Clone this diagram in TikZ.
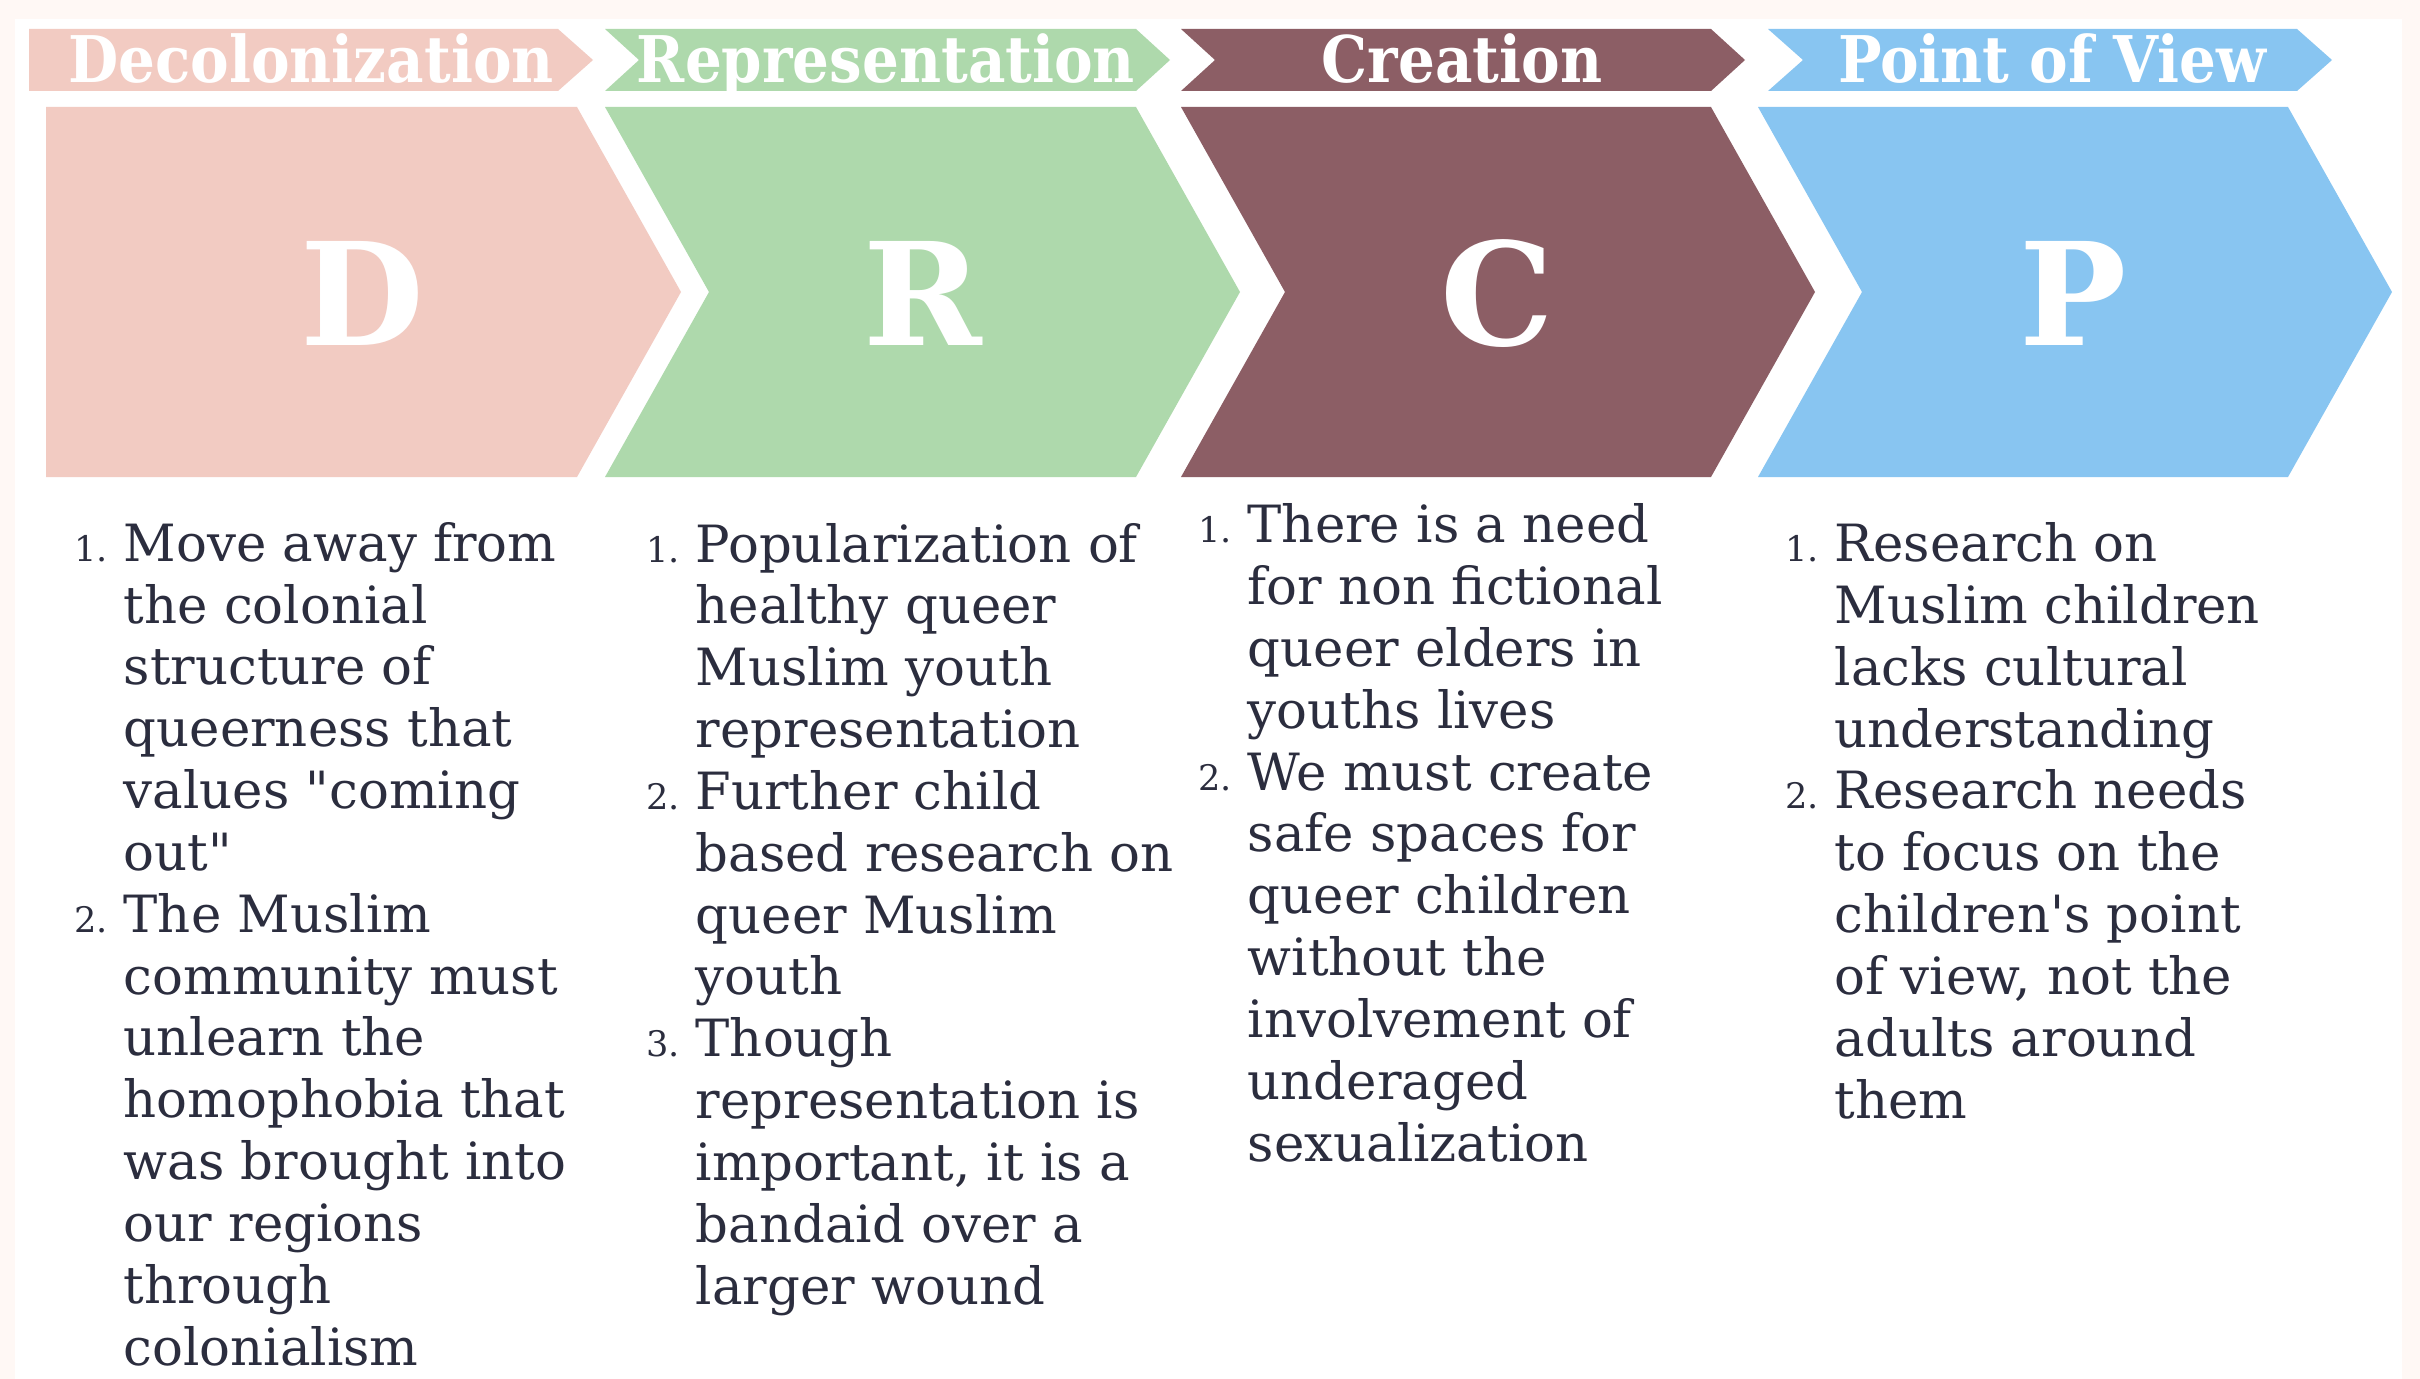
\documentclass[tikz,border=0pt]{standalone}
\usepackage{fontspec}
\setmainfont{DejaVu Serif}
\newfontfamily\headfont{DejaVu Serif}[FakeStretch=0.9]
\usepackage{xcolor}
\usepackage{tikz}
\usetikzlibrary{positioning}

\definecolor{cream}{HTML}{FFF8F5}
\definecolor{decpink}{HTML}{F2CBC2}
\definecolor{repgreen}{HTML}{AED9AC}
\definecolor{cremaroon}{HTML}{8C5E65}
\definecolor{povblue}{HTML}{88C5F1}
\definecolor{ink}{HTML}{2B2D3E}

% list number, hung to the left of the text
\newcommand{\itm}[1]{\llap{\fontsize{10}{10}\selectfont #1\hspace{4.5pt}}}

\begin{document}
\begin{tikzpicture}[x=0.01cm, y=-0.01cm,
            every node/.style={inner sep=0pt},
            head/.style={font=\headfont\fontsize{18.3}{18.3}\selectfont\bfseries, text=white, anchor=base},
            letter/.style={font=\fontsize{40.6}{40.6}\selectfont\bfseries, text=white, anchor=base},
            item/.style={font=\fontsize{14.6}{17.58}\selectfont, text=ink, align=left, anchor=base west}]
            \useasboundingbox (0,0) rectangle (2420,1379);
            \fill[cream] (0,0) rectangle (2420,1379);
            \fill[white] (15,19) rectangle (2402,1379);

            % Kopfleiste
            \fill[decpink] (29,29) -- (558,29) -- (593,60) -- (558,91) -- (29,91) -- cycle;
            \fill[repgreen] (605,29) -- (1136,29) -- (1170,60) -- (1136,91) -- (605,91) -- (639,60) -- cycle;
            \fill[cremaroon] (1181,29) -- (1711,29) -- (1745,60) -- (1711,91) -- (1181,91) -- (1215,60) -- cycle;
            \fill[povblue] (1768,29) -- (2297,29) -- (2332,60) -- (2297,91) -- (1768,91) -- (1803,60) -- cycle;

            \node[head] (hdec) at (311,83) {Decolonization};
            \node[head] (hrep) at (886,83) {Representation};
            \node[head] (hcre) at (1462,83) {Creation};
            \node[head] (hpov) at (2052,83) {Point of View};

            % grosse Pfeile
            \fill[decpink] (46,107) -- (577,107) -- (681,292) -- (577,477) -- (46,477) -- cycle;
            \fill[repgreen] (605,107) -- (1136,107) -- (1240,292) -- (1136,477) -- (605,477) -- (709,292) -- cycle;
            \fill[cremaroon] (1181,107) -- (1711,107) -- (1815,292) -- (1711,477) -- (1181,477) -- (1285,292) -- cycle;
            \fill[povblue] (1758,107) -- (2288,107) -- (2392,292) -- (2288,477) -- (1758,477) -- (1862,292) -- cycle;

            \node[letter] (ltrD) at (362,346) {D};
            \node[letter] (ltrR) at (923,346) {R};
            \node[letter] (ltrC) at (1497,346) {C};
            \node[letter] (ltrP) at (2073,346) {P};

            % Decolonization (anchored on the last line)
            \node[item] (txtD) at (123,1365) {
                \itm{1.}Move away from\\
                the colonial\\
                structure of\\
                queerness that\\
                values \textquotedbl coming\\
                out\textquotedbl\\
                \itm{2.}The Muslim\\
                community must\\
                unlearn the\\
                homophobia that\\
                was brought into\\
                our regions\\
                through\\
                colonialism
            };

            % Representation
            \node[item] (txtR) at (695,1304) {
                \itm{1.}Popularization of\\
                healthy queer\\
                Muslim youth\\
                representation\\
                \itm{2.}Further child\\
                based research on\\
                queer Muslim\\
                youth\\
                \itm{3.}Though\\
                representation is\\
                important, it is a\\
                bandaid over a\\
                larger wound
            };

            % Creation
            \node[item] (txtC) at (1247,1161) {
                \itm{1.}There is a need\\
                for non fictional\\
                queer elders in\\
                youths lives\\
                \itm{2.}We must create\\
                safe spaces for\\
                queer children\\
                without the\\
                involvement of\\
                underaged\\
                sexualization
            };

            % Point of View
            \node[item] (txtP) at (1834,1118) {
                \itm{1.}Research on\\
                Muslim children\\
                lacks cultural\\
                understanding\\
                \itm{2.}Research needs\\
                to focus on the\\
                children\textquotesingle s point\\
                of view, not the\\
                adults around\\
                them
            };
        \end{tikzpicture}
\end{document}
